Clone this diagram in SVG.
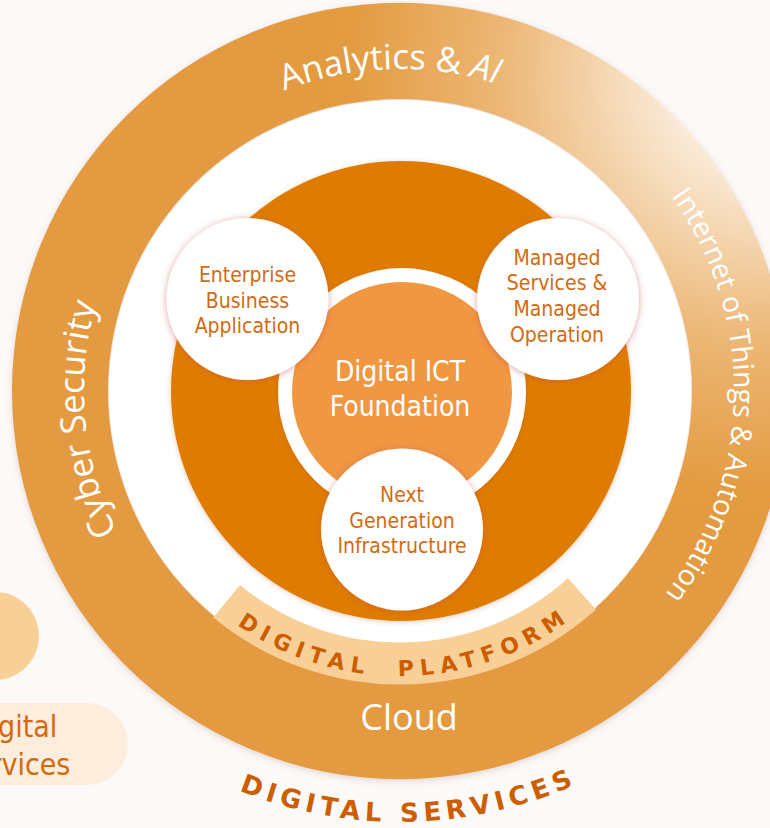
<svg xmlns="http://www.w3.org/2000/svg" width="770" height="828" viewBox="0 0 770 828">
  <style>
    .ring-label { font-family: "Open Sans", "DejaVu Sans", sans-serif; fill: #ffffff; }
    .node-text { font-family: "DejaVu Sans Condensed", "DejaVu Sans", sans-serif; font-size: 21px; fill: #D26A12; text-anchor: middle; }
    .core-text { font-family: "DejaVu Sans Condensed", "DejaVu Sans", sans-serif; font-size: 28px; fill: #ffffff; text-anchor: middle; }
    .band-label { font-family: "DejaVu Sans", "Liberation Sans", sans-serif; font-weight: bold; fill: #CC5E00; }
    .node-circle { fill: #ffffff; filter: url(#nodeShadow); }
  </style>
  <defs>
    <radialGradient id="ringGrad" gradientUnits="userSpaceOnUse" cx="760" cy="80" r="480">
      <stop offset="0" stop-color="#FFFFFF"/>
      <stop offset="0.22" stop-color="#F9E6CF"/>
      <stop offset="0.55" stop-color="#ECB674"/>
      <stop offset="0.85" stop-color="#E49C42"/>
      <stop offset="1" stop-color="#E39A40"/>
    </radialGradient>
    <filter id="ringShadow" x="-10%" y="-10%" width="120%" height="120%">
      <feDropShadow dx="0" dy="2" stdDeviation="3" flood-color="#9A6A50" flood-opacity="0.25"/>
    </filter>
    <filter id="nodeShadow" x="-20%" y="-20%" width="140%" height="140%">
      <feDropShadow dx="0" dy="1" stdDeviation="3.5" flood-color="#C8504A" flood-opacity="0.55"/>
    </filter>
    <filter id="softShadow" x="-20%" y="-20%" width="140%" height="140%">
      <feDropShadow dx="0" dy="1" stdDeviation="2.5" flood-color="#A05020" flood-opacity="0.3"/>
    </filter>
    <path id="pTop" d="M 78 391 A 322 322 0 0 1 722 391"/>
    <path id="pLeft" d="M 400 707 A 316 316 0 0 1 400 75"/>
    <path id="pRight" d="M 400 57 A 334 334 0 0 1 400 725"/>
    <path id="pServ" d="M -31 391 A 431 431 0 0 0 831 391"/>
    <path id="pPlat" d="M 115 391 A 285 285 0 0 0 685 391"/>
  </defs>

  <rect width="770" height="828" fill="#FCF9F9"/>

  <g id="left-partial">
    <circle cx="-5" cy="636" r="44" fill="#F8D097"/>
    <rect x="-150" y="703" width="278" height="82" rx="41" fill="#FDEDDC"/>
    <text x="13.5" y="737" font-family="DejaVu Sans Condensed, DejaVu Sans, sans-serif" font-size="30" fill="#D26A12" text-anchor="middle">Digital</text>
    <text x="13.5" y="775" font-family="DejaVu Sans Condensed, DejaVu Sans, sans-serif" font-size="30" fill="#D26A12" text-anchor="middle">Services</text>
  </g>

  <g id="outer-ring">
    <path d="M 12 391 A 388 388 0 1 1 788 391 A 388 388 0 1 1 12 391 Z M 108 391 A 292 292 0 1 0 692 391 A 292 292 0 1 0 108 391 Z" fill="url(#ringGrad)" fill-rule="evenodd" filter="url(#ringShadow)"/>
    <circle cx="400" cy="391" r="291" fill="#FFFFFF"/>
    <text class="ring-label" font-size="35"><textPath href="#pTop" startOffset="49%" text-anchor="middle">Analytics &amp; <tspan font-style="italic">AI</tspan></textPath></text>
    <text class="ring-label" font-size="35"><textPath href="#pLeft" startOffset="47.1%" text-anchor="middle">Cyber Security</textPath></text>
    <text class="ring-label" font-size="28.4"><textPath href="#pRight" startOffset="50.5%" text-anchor="middle">Internet of Things &amp; Automation</textPath></text>
    <text class="ring-label" x="409" y="730" font-size="36" text-anchor="middle">Cloud</text>
  </g>

  <g id="digital-platform">
    <path d="M 596.0 609.5 A 293.5 293.5 0 0 1 213.3 617.5 L 240.0 585.1 A 251.5 251.5 0 0 0 568.0 578.2 Z" fill="#F8D097"/>
    <text class="band-label" font-size="22" letter-spacing="6.6"><textPath href="#pPlat" startOffset="50.6%" text-anchor="middle">DIGITAL <tspan dx="14">PLATFORM</tspan></textPath></text>
  </g>

  <g id="digital-services">
    <text class="band-label" font-size="26" letter-spacing="5.2"><textPath href="#pServ" startOffset="50.7%" text-anchor="middle">DIGITAL SERVICES</textPath></text>
  </g>

  <g id="core">
    <circle cx="401" cy="391" r="230" fill="#DF7B00" filter="url(#softShadow)"/>
  </g>

  <g id="foundation">
    <circle cx="402" cy="392" r="124" fill="#FFFFFF" filter="url(#softShadow)"/>
    <circle cx="402" cy="392" r="110" fill="#F09742"/>
    <text class="core-text" x="400" y="381">Digital ICT</text>
    <text class="core-text" x="400" y="416">Foundation</text>
  </g>

  <g id="node-enterprise">
    <circle class="node-circle" cx="247.5" cy="299" r="81"/>
    <text class="node-text" x="247.5" y="282">Enterprise</text>
    <text class="node-text" x="247.5" y="308">Business</text>
    <text class="node-text" x="247.5" y="333">Application</text>
  </g>

  <g id="node-managed">
    <circle class="node-circle" cx="558" cy="299" r="81"/>
    <text class="node-text" x="557" y="264.5">Managed</text>
    <text class="node-text" x="557" y="290">Services &amp;</text>
    <text class="node-text" x="557" y="316">Managed</text>
    <text class="node-text" x="557" y="341.5">Operation</text>
  </g>

  <g id="node-nextgen">
    <circle class="node-circle" cx="402" cy="529.5" r="81"/>
    <text class="node-text" x="402" y="502">Next</text>
    <text class="node-text" x="402" y="528">Generation</text>
    <text class="node-text" x="402" y="553">Infrastructure</text>
  </g>

  <g id="connectors"/>
</svg>
